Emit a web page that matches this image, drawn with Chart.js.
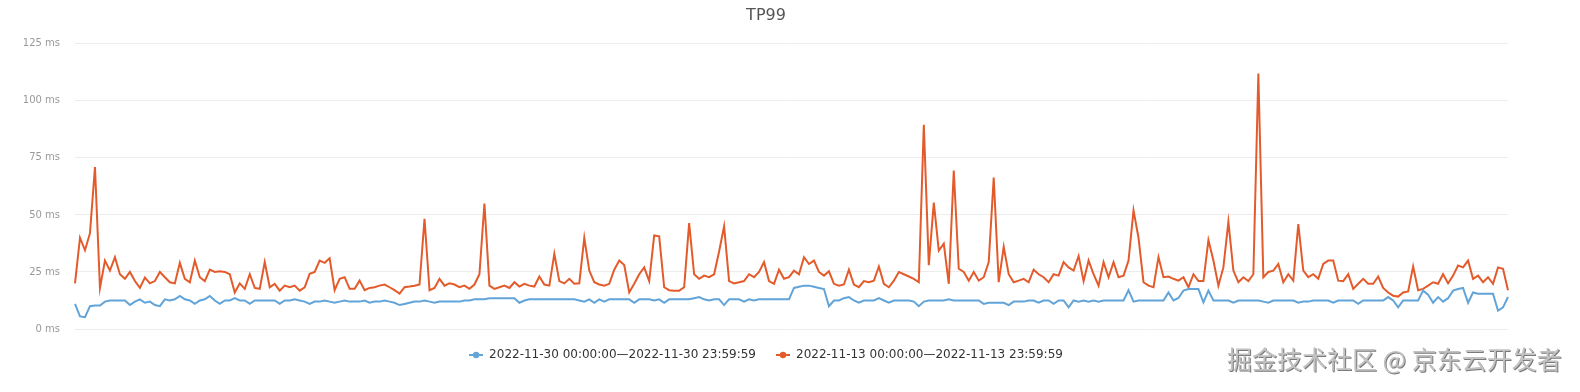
<!DOCTYPE html>
<html><head><meta charset="utf-8">
<script src="https://cdn.jsdelivr.net/npm/chart.js@4.4.0/dist/chart.umd.min.js"></script>
<style>
html,body{margin:0;padding:0;background:#fff;}
#wrap{position:relative;width:1580px;height:392px;}
#c{display:block;}
#wm{position:absolute;left:1227px;top:343px;font-family:"Noto Sans CJK SC";font-size:25px;line-height:30px;color:#c2c2c2;text-shadow:1px 1px 0 #7a7a7a,-1px -1px 0 #fff;white-space:nowrap;}
</style></head>
<body><div id="wrap"><canvas id="c" width="1580" height="392"></canvas><div id="wm">掘金技术社区 @ 京东云开发者</div></div>
<script>
const chartTitle = 'TP99';
const seriesNames = ['2022-11-30 00:00:00\u20142022-11-30 23:59:59', '2022-11-13 00:00:00\u20142022-11-13 23:59:59'];
const yTicks = [0, 25, 50, 75, 100, 125];
const yUnit = ' ms';

// 5-minute buckets across the day
const times = [];
for (let m = 0; m < 1440; m += 5) {
  times.push(String(Math.floor(m / 60)).padStart(2, '0') + ':' + String(m % 60).padStart(2, '0'));
}

// 2022-11-30 (blue)
const tp99Nov30 = [
  11, 5.5, 5.2, 10, 10.3, 10.3, 12, 12.5, 12.5, 12.5, 12.5, 10.5, 12, 13, 11.5, 12, 10.5, 10, 13, 12.5, 13, 14.5, 13, 12.5,
  11, 12.5, 13, 14.5, 12.5, 11, 12.5, 12.5, 13.5, 12.5, 12.5, 11, 12.5, 12.5, 12.5, 12.5, 12.5, 11, 12.5, 12.5, 13, 12.5, 12, 11,
  12, 12, 12.5, 12, 11.5, 12, 12.5, 12, 12, 12, 12.5, 11.5, 12, 12, 12.5, 12, 11.5, 10.5, 11, 11.5, 12, 12, 12.5, 12,
  11.5, 12, 12, 12, 12, 12, 12.5, 12.5, 13, 13, 13, 13.5, 13.5, 13.5, 13.5, 13.5, 13.5, 11.5, 12.5, 13, 13, 13, 13,
  13, 13, 13, 13, 13, 13, 12.5, 12, 13, 11.5, 13, 12, 13, 13, 13, 13, 13, 11.5, 13, 13, 13, 12.5, 13, 11.5,
  13, 13, 13, 13, 13, 13.5, 14, 13, 12.5, 13, 13, 10.5, 13, 13, 13, 12, 13, 12.5, 13, 13, 13, 13, 13, 13,
  13, 18, 18.5, 19, 19, 18.5, 18, 17.5, 10, 12.5, 12.5, 13.5, 14, 12.5, 11.5, 12.5, 12.5, 12.5, 13.5, 12.5, 11.5, 12.5, 12.5, 12.5,
  12.5, 12, 10, 12, 12.5, 12.5, 12.5, 12.5, 13, 12.5, 12.5, 12.5, 12.5, 12.5, 12.5, 11, 11.5, 11.5, 11.5, 11.5, 10.5, 12, 12, 12,
  12.5, 12.5, 11.5, 12.5, 12.5, 11, 12.5, 12.5, 9.5, 12.5, 12, 12.5, 12, 12.5, 12, 12.5, 12.5, 12.5, 12.5, 12.5, 17, 12, 12.5, 12.5,
  12.5, 12.5, 12.5, 12.5, 16, 12.5, 13.6, 16.8, 17.5, 17.5, 17.5, 11.7, 16.8, 12.5, 12.5, 12.5, 12.5, 11.5, 12.5, 12.5, 12.5, 12.5, 12.5, 12,
  11.5, 12.5, 12.5, 12.5, 12.5, 12.5, 11.5, 12, 12, 12.5, 12.5, 12.5, 12.5, 11.5, 12.5, 12.5, 12.5, 12.5, 11, 12.5, 12.5, 12.5, 12.5, 12.5,
  14, 12.5, 9.5, 12.5, 12.5, 12.5, 12.5, 16.8, 15, 11.5, 14, 12, 13.5, 16.8, 17.5, 18, 11.5, 16, 15.5, 15.5, 15.5, 15.5, 8, 9.5, 14
];

// 2022-11-13 (orange)
const tp99Nov13 = [
  20, 40, 34.5, 42, 71, 18, 30, 25.6, 31.5, 24, 22, 25, 21, 18, 22.5, 20, 21, 25, 22.7, 20.5, 20, 29, 22, 20.5,
  30, 22.7, 21, 26, 25, 25.3, 25, 24, 16, 20, 17.6, 24, 18, 17.6, 29.3, 18.3, 19.8, 16.8, 19, 18.3, 19, 16.8, 18.3, 24.2,
  25, 30, 29, 31, 17, 22, 22.7, 17.6, 17.6, 21.2, 17, 18, 18.3, 19, 19.5, 18.3, 17, 15.5, 18.3, 18.6, 19, 19.5, 48.3, 17,
  18, 22, 19, 20, 19.5, 18.3, 19, 17.6, 19.5, 24, 55, 19, 17.6, 18.3, 19, 18, 20.5, 18.6, 19.8, 19, 18.6, 23, 19.5,
  19, 33, 21, 20, 22, 19.8, 20, 40, 25.6, 20.5, 19.5, 19, 19.8, 26, 30, 28, 16, 19.8, 24, 27, 21, 41, 40.6, 18.3,
  17, 16.8, 16.8, 18.3, 46.4, 24, 22, 23.4, 22.7, 24, 34, 45, 21, 20, 20.5, 21, 24, 22.7, 25, 29.3, 21, 19.8, 26, 22,
  22.7, 25.6, 24, 31.5, 28.5, 30, 25, 23.4, 25.3, 19.8, 19, 19.5, 26, 19.5, 18.3, 21, 20.5, 21.2, 27.4, 19.8, 18.3, 21.2, 25, 24,
  23, 22, 20.5, 89.5, 28, 55.4, 34.4, 37.4, 19.8, 69.5, 26.4, 25, 21.2, 25, 21.2, 22.7, 29.3, 66.4, 20.5, 36, 24, 20.5, 21.2, 22,
  20.5, 26, 24, 22.7, 20.5, 24, 23.4, 29.3, 27, 25.6, 32, 21, 30, 24, 19, 29.3, 22.7, 29.3, 22.7, 23.4, 30, 52, 40, 20.5,
  19, 18.3, 31.5, 22.7, 23, 22, 21.2, 22.7, 18.3, 24, 21, 21, 39, 30, 19, 27, 47, 25.6, 20.5, 22.7, 21, 24, 112, 22.7,
  25, 25.6, 28.5, 20.5, 24, 21.2, 46, 25.6, 22.7, 24, 22, 28.5, 30, 30, 21.2, 21, 24, 17.6, 19.8, 22, 19.8, 19.8, 23, 18,
  16, 14.6, 14.2, 16, 16.5, 27.4, 17, 17.6, 19, 20.5, 19.8, 24, 20, 23.4, 27.8, 27, 30, 22, 23.4, 20.5, 22.7, 19.8, 27, 26.4, 17
];

const BLUE = '#62a4d8';
const ORANGE = '#e35b2b';

function marker(color) {
  const c = document.createElement('canvas');
  c.width = 14; c.height = 8;
  const g = c.getContext('2d');
  g.strokeStyle = color; g.lineWidth = 2;
  g.beginPath(); g.moveTo(0, 4); g.lineTo(14, 4); g.stroke();
  g.fillStyle = color;
  g.beginPath(); g.arc(7, 4, 3.2, 0, Math.PI * 2); g.fill();
  return c;
}
const markers = [marker(BLUE), marker(ORANGE)];

new Chart(document.getElementById('c'), {
  type: 'line',
  data: {
    labels: times,
    datasets: [
      { label: seriesNames[0], data: tp99Nov30, borderColor: BLUE, backgroundColor: BLUE, borderWidth: 2, pointRadius: 0, tension: 0, fill: false },
      { label: seriesNames[1], data: tp99Nov13, borderColor: ORANGE, backgroundColor: ORANGE, borderWidth: 2, pointRadius: 0, tension: 0, fill: false }
    ]
  },
  options: {
    responsive: false,
    animation: false,
    layout: { padding: { left: 24, right: 72, top: 0, bottom: 21 } },
    plugins: {
      title: { display: true, text: chartTitle, color: '#555', font: { family: 'DejaVu Sans', size: 16, weight: 'normal' }, padding: { top: 6, bottom: 18.6 } },
      legend: {
        position: 'bottom',
        labels: {
          usePointStyle: true, pointStyleWidth: 14, boxHeight: 8, padding: 20, color: '#333',
          font: { family: 'DejaVu Sans', size: 12 },
          generateLabels: (chart) => {
            const items = Chart.defaults.plugins.legend.labels.generateLabels(chart);
            items.forEach((it, i) => { it.pointStyle = markers[i]; it.fontColor = '#333'; });
            return items;
          }
        }
      },
      tooltip: { enabled: false }
    },
    scales: {
      x: { display: false },
      y: {
        min: yTicks[0], max: yTicks[yTicks.length - 1],
        afterBuildTicks: (s) => { s.ticks = yTicks.map(v => ({ value: v })); },
        afterFit: (s) => { s.width = 51; },
        ticks: { callback: (v) => v + yUnit, color: '#999', font: { family: 'DejaVu Sans', size: 10 }, padding: 15 },
        grid: { color: '#ececec', drawTicks: false },
        border: { display: false }
      }
    }
  }
});
</script>
</body></html>
